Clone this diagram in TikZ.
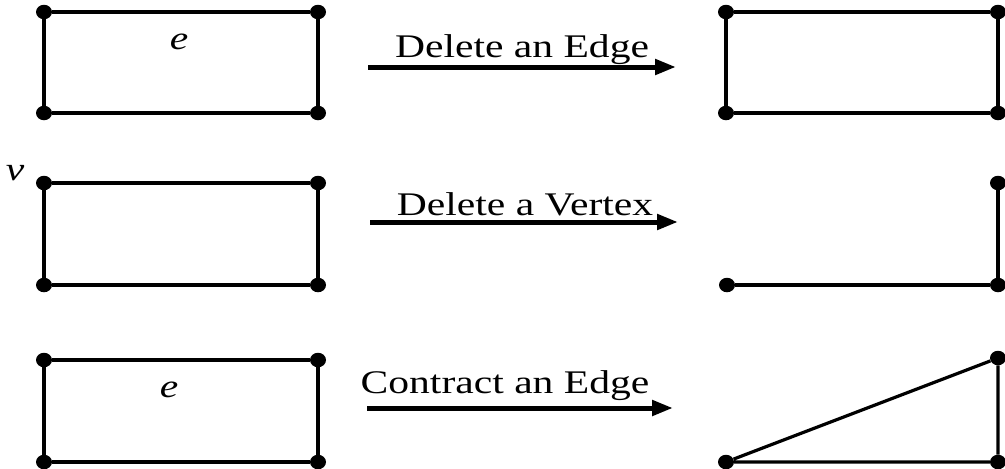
\documentclass[tikz,border=0pt]{standalone}
\usepackage{fontspec}
\setmainfont{Liberation Serif}
\usetikzlibrary{arrows.meta}
\tikzset{
  vtx/.style={ellipse, fill=black, draw=none, inner sep=0pt, minimum width=16pt, minimum height=14.5pt},
  edge/.style={line width=3.2pt, black},
  op/.style={line width=5pt, -{Triangle[length=21pt, width=15pt]}, shorten >=-2pt},
  oplabel/.style={anchor=base, inner sep=0pt, font=\fontsize{33}{38}\selectfont},
  elabel/.style={inner sep=0pt, font=\fontsize{33}{38}\selectfont\itshape}
}
\usetikzlibrary{shapes.geometric}
\newcommand{\wide}[1]{\scalebox{1.26}[1]{#1}}
\begin{document}
\begin{tikzpicture}[x=1pt,y=-1pt]
\useasboundingbox (0,0) rectangle (1005,469);

% --- row 1: deleting an edge ---
\node[vtx] (a1) at (44,12) {};
\node[vtx] (b1) at (318,12) {};
\node[vtx] (c1) at (318,113) {};
\node[vtx] (d1) at (44,113) {};
\draw[edge] (a1) -- (b1) -- (c1) -- (d1) -- (a1);
\node[elabel] (e1) at (179,42) {\wide{e}};

\coordinate (s1) at (368,67);
\coordinate (t1) at (674,67);
\draw[op] (s1) -- (t1);
\node[oplabel] (l1) at (522,57) {\wide{Delete an Edge}};

\node[vtx] (a1r) at (726,12) {};
\node[vtx] (b1r) at (998,12) {};
\node[vtx] (c1r) at (998,113) {};
\node[vtx] (d1r) at (726,113) {};
\draw[edge] (a1r) -- (b1r) -- (c1r) -- (d1r) -- (a1r);

% --- row 2: deleting a vertex ---
\node[vtx] (a2) at (44,183) {};
\node[vtx] (b2) at (318,183) {};
\node[vtx] (c2) at (318,285) {};
\node[vtx] (d2) at (44,285) {};
\draw[edge] (a2) -- (b2) -- (c2) -- (d2) -- (a2);
\node[elabel] (v2) at (15,173) {\wide{v}};

\coordinate (s2) at (370,222);
\coordinate (t2) at (676,222);
\draw[op] (s2) -- (t2);
\node[oplabel] (l2) at (525,215) {\wide{Delete a Vertex}};

\node[vtx] (b2r) at (998,183) {};
\node[vtx] (c2r) at (998,285) {};
\node[vtx] (d2r) at (727,285) {};
\draw[edge] (b2r) -- (c2r) -- (d2r);

% --- row 3: contracting an edge ---
\node[vtx] (a3) at (44,360) {};
\node[vtx] (b3) at (318,360) {};
\node[vtx] (c3) at (318,462) {};
\node[vtx] (d3) at (44,462) {};
\draw[edge] (a3) -- (b3) -- (c3) -- (d3) -- (a3);
\node[elabel] (e3) at (169,390) {\wide{e}};

\coordinate (s3) at (367,408);
\coordinate (t3) at (671,408);
\draw[op] (s3) -- (t3);
\node[oplabel] (l3) at (505,393) {\wide{Contract an Edge}};

\node[vtx] (b3r) at (998,358) {};
\node[vtx] (c3r) at (998,462) {};
\node[vtx] (d3r) at (726,462) {};
\draw[edge] (d3r) -- (b3r) -- (c3r) -- (d3r);
\end{tikzpicture}
\end{document}
